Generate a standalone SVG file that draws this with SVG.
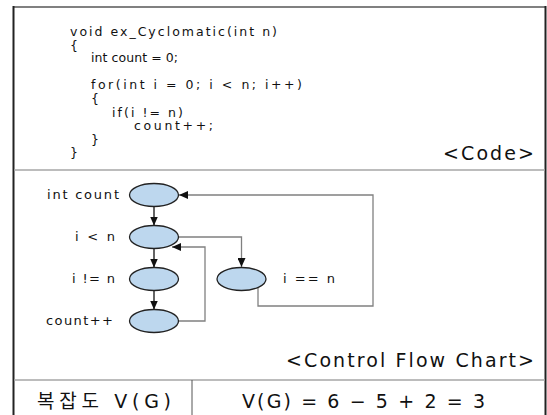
<svg xmlns="http://www.w3.org/2000/svg" width="547" height="415" viewBox="0 0 547 415">
<style>
text{font-family:"DejaVu Sans","Noto Sans CJK KR",sans-serif;fill:#111}
.code{font-size:12.5px}
.lbl{font-size:13px}
.cap{font-size:19px}
.node{fill:#bdd7ee;stroke:#222;stroke-width:1.3}
.blk{fill:none;stroke:#111;stroke-width:1.3}
.gry{fill:none;stroke:#808080;stroke-width:1.3}
</style>
<defs>
<marker id="ah" markerUnits="userSpaceOnUse" markerWidth="9" markerHeight="8" refX="9" refY="4" orient="auto">
<path d="M0,0 L9,4 L0,8 z" fill="#111"/>
</marker>
</defs>
<rect width="547" height="415" fill="#fff"/>
<g id="frame">
<line x1="13" y1="7" x2="546" y2="7" stroke="#808080" stroke-width="2"/>
<line x1="13.5" y1="6" x2="13.5" y2="415" stroke="#222" stroke-width="2"/>
<line x1="545.5" y1="6" x2="545.5" y2="415" stroke="#222" stroke-width="2"/>
<line x1="14" y1="170" x2="545" y2="170" stroke="#a6a6a6" stroke-width="1.5"/>
<line x1="14" y1="380" x2="545" y2="380" stroke="#a6a6a6" stroke-width="1.5"/>
<line x1="192" y1="380" x2="192" y2="415" stroke="#555" stroke-width="1"/>
</g>
<g id="code">
<text class="code" x="70" y="36" textLength="207" lengthAdjust="spacing">void ex_Cyclomatic(int n)</text>
<text class="code" x="70" y="50">{</text>
<text class="code" x="91" y="62" textLength="87" lengthAdjust="spacing">int count = 0;</text>
<text class="code" x="91" y="89" textLength="211" lengthAdjust="spacing">for(int i = 0; i &lt; n; i++)</text>
<text class="code" x="91" y="103">{</text>
<text class="code" x="112" y="117" textLength="71" lengthAdjust="spacing">if(i != n)</text>
<text class="code" x="134" y="130" textLength="79" lengthAdjust="spacing">count++;</text>
<text class="code" x="91" y="144">}</text>
<text class="code" x="70" y="157">}</text>
<text class="cap" x="443" y="160" textLength="91" lengthAdjust="spacing">&lt;Code&gt;</text>
</g>
<g id="connectors">
<path class="blk" d="M154,207 V225.5" marker-end="url(#ah)"/>
<path class="blk" d="M154,249 V267.5" marker-end="url(#ah)"/>
<path class="blk" d="M154,291 V309.5" marker-end="url(#ah)"/>
<path class="gry" d="M258,288 V306 H373 V195 H179" marker-end="url(#ah)"/>
<path class="gry" d="M178,237 H241.5 V267" marker-end="url(#ah)"/>
<path class="gry" d="M178,321 H205 V247 H172" marker-end="url(#ah)"/>
</g>
<g id="n1">
<ellipse class="node" cx="154" cy="195" rx="24.5" ry="11.5"/>
<text class="lbl" x="119" y="199" text-anchor="end" textLength="72" lengthAdjust="spacing">int count</text>
</g>
<g id="n2">
<ellipse class="node" cx="154" cy="237" rx="24.5" ry="11.5"/>
<text class="lbl" x="75" y="241" textLength="40" lengthAdjust="spacing">i &lt; n</text>
</g>
<g id="n3">
<ellipse class="node" cx="154" cy="279" rx="24.5" ry="11.5"/>
<text class="lbl" x="72" y="283" textLength="43" lengthAdjust="spacing">i != n</text>
</g>
<g id="n4">
<ellipse class="node" cx="154" cy="321" rx="24.5" ry="11.5"/>
<text class="lbl" x="46" y="325" textLength="67" lengthAdjust="spacing">count++</text>
</g>
<g id="n5">
<ellipse class="node" cx="241.5" cy="279" rx="24.5" ry="11.5"/>
<text class="lbl" x="283" y="283" textLength="52" lengthAdjust="spacing">i == n</text>
</g>
<text class="cap" x="286" y="367" textLength="248" lengthAdjust="spacing">&lt;Control Flow Chart&gt;</text>
<g id="result">
<text class="cap" x="37" y="408" textLength="134" lengthAdjust="spacing">복잡도 V(G)</text>
<text class="cap" x="242" y="408" textLength="243" lengthAdjust="spacing">V(G) = 6 − 5 + 2 = 3</text>
</g>
</svg>
